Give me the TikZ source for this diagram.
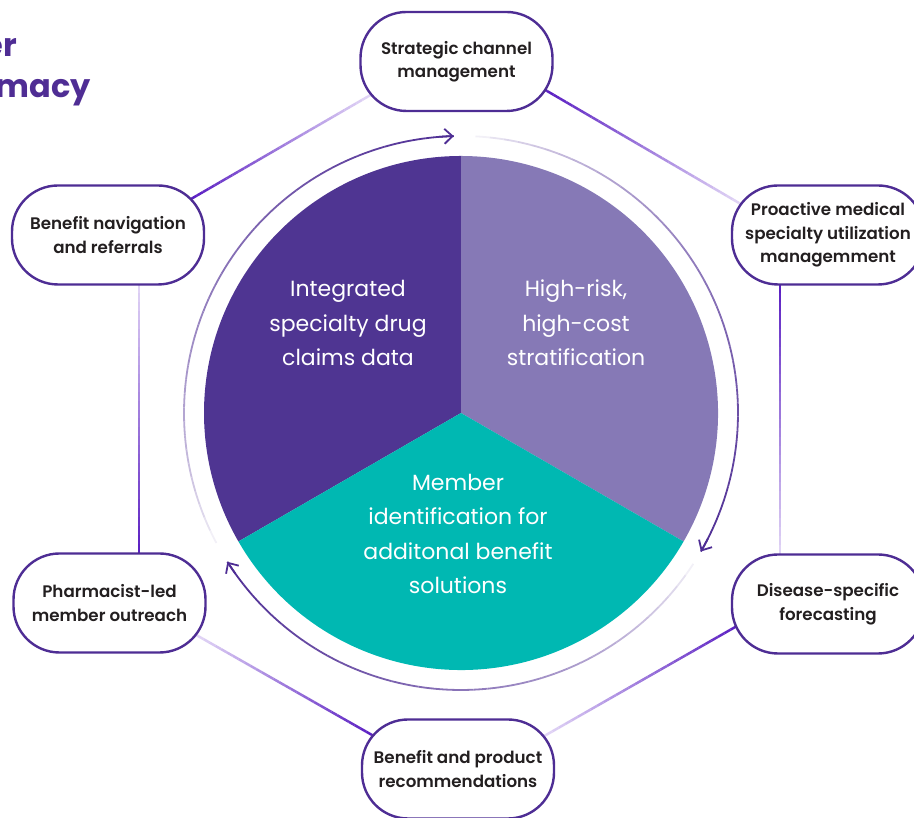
\documentclass[tikz,border=0pt]{standalone}
\usepackage{fontspec}
\setmainfont{Poppins}
\newfontfamily\semib{Poppins SemiBold}
\usetikzlibrary{arrows.meta,calc,backgrounds}
\definecolor{pieA}{HTML}{4F3592}
\definecolor{pieB}{HTML}{8679B6}
\definecolor{pieC}{HTML}{00B8B2}
\definecolor{boxline}{HTML}{4E2D94}
\definecolor{ringdark}{HTML}{4E2D94}
\definecolor{linkdark}{HTML}{5A1EC2}
\definecolor{linklight}{HTML}{E2D6F6}
\definecolor{titlec}{HTML}{4F2D94}
\definecolor{labeltext}{HTML}{231F20}
\tikzset{
  stepbox/.style={rectangle, rounded corners=46pt, minimum width=192pt, minimum height=99pt,
    draw=boxline, line width=2.4pt, fill=white, align=center, inner sep=0pt,
    text=labeltext, font=\semib\fontsize{16.7}{23.5}\selectfont},
  pietext/.style={align=center, text=white, inner sep=0pt, font=\fontsize{22}{34.5}\selectfont},
  titletext/.style={anchor=base east, inner sep=0pt, text=titlec, font=\bfseries\fontsize{32}{40}\selectfont},
  ringline/.style={line width=1.8pt},
  linkline/.style={line width=2.5pt},
}
\newcommand\gradlink[2]{%
  \draw[linkline, linkdark] ($(#1)!-10pt!(#2)$) -- (#1);
  \draw[linkline, linklight] (#2) -- ($(#2)!-10pt!(#1)$);
  \foreach \k in {0,...,29}{%
    \pgfmathsetmacro\pa{\k/30}%
    \pgfmathsetmacro\pb{(\k+1)/30}%
    \pgfmathsetmacro\mix{100-100*(\k+0.5)/30}%
    \draw[linkline, color=linkdark!\mix!linklight] ($(#1)!\pa!(#2)$) -- ($(#1)!\pb!(#2)$);
  }%
}
\newcommand\ringarc[2]{%
  \foreach \k in {0,...,39}{%
    \pgfmathsetmacro\aa{#1+(#2-#1)*\k/40}%
    \pgfmathsetmacro\ab{#1+(#2-#1)*(\k+1)/40}%
    \pgfmathsetmacro\mix{100*((\k+0.5)/40)^0.6}%
    \draw[ringline, color=ringdark!\mix!white] ($(O)+(\aa:277pt)$) arc[start angle=\aa, end angle=\ab, radius=277pt];
  }%
  \pgfmathsetmacro\ac{#2+3*sign(#1-#2)}%
  \draw[ringline, ringdark, -{Straight Barb[length=8pt,width=15pt,line width=1.8pt]}] ($(O)+(\ac:277pt)$) arc[start angle=\ac, end angle=#2, radius=277pt];
}
\begin{document}
\begin{tikzpicture}[x=1pt,y=1pt]
\useasboundingbox (0,0) rectangle (914,818);
\clip (0,0) rectangle (914,818);
\coordinate (O) at (461,405);

% title (cut at the left edge, as in the reference)
\node[titletext] (ttl1) at (17,761) {er};
\node[titletext] (ttl2) at (91,720) {macy};

% pie
\fill[pieA] (O) -- ++(90:257pt) arc[start angle=90, end angle=210, radius=257pt] -- cycle;
\fill[pieB] (O) -- ++(-30:257pt) arc[start angle=-30, end angle=90, radius=257pt] -- cycle;
\fill[pieC] (O) -- ++(210:257pt) arc[start angle=210, end angle=330, radius=257pt] -- cycle;

\node[pietext] (pa) at (348,495) {Integrated\\specialty drug\\claims data};
\node[pietext] (pb) at (576,495) {High-risk,\\high-cost\\stratification};
\node[pietext] (pc) at (458,284) {Member\\identification for\\additonal benefit\\solutions};

% ring arrows
\ringarc{208}{91.5}
\ringarc{87}{-30}
\ringarc{-33}{-147.5}

% boxes
\node[stepbox] (t)  at (456.5,756.5) {Strategic channel\\management};
\node[stepbox] (tr) at (828,583) {Proactive medical\\specialty utilization\\managemment};
\node[stepbox] (br) at (828,214) {Disease-specific\\forecasting};
\node[stepbox] (b)  at (458,49) {Benefit and product\\recommendations};
\node[stepbox] (bl) at (109.5,215) {Pharmacist-led\\member outreach};
\node[stepbox] (tl) at (108,583) {Benefit navigation\\and referrals};

% connector end points on the box borders
\coordinate (l1a) at ($(tl.center)+(83,36)$);
\coordinate (l1b) at ($(t.center)+(-88.5,-35)$);
\coordinate (l2a) at ($(t.center)+(90.5,-29.5)$);
\coordinate (l2b) at ($(tr.center)+(-89,32)$);
\coordinate (l3a) at ($(tr.center)+(-48,-49)$);
\coordinate (l3b) at ($(br.center)+(-48,50)$);
\coordinate (l4a) at ($(br.center)+(-91,-22)$);
\coordinate (l4b) at ($(b.center)+(88,34)$);
\coordinate (l5a) at ($(b.center)+(-86,34)$);
\coordinate (l5b) at ($(bl.center)+(88.5,-33)$);
\coordinate (l6a) at ($(bl.center)+(29.5,50)$);
\coordinate (l6b) at ($(tl.center)+(31,-49)$);

\begin{scope}[on background layer]
\gradlink{l1a}{l1b}
\gradlink{l2a}{l2b}
\gradlink{l3a}{l3b}
\gradlink{l4a}{l4b}
\gradlink{l5a}{l5b}
\gradlink{l6a}{l6b}
\end{scope}
\end{tikzpicture}
\end{document}
